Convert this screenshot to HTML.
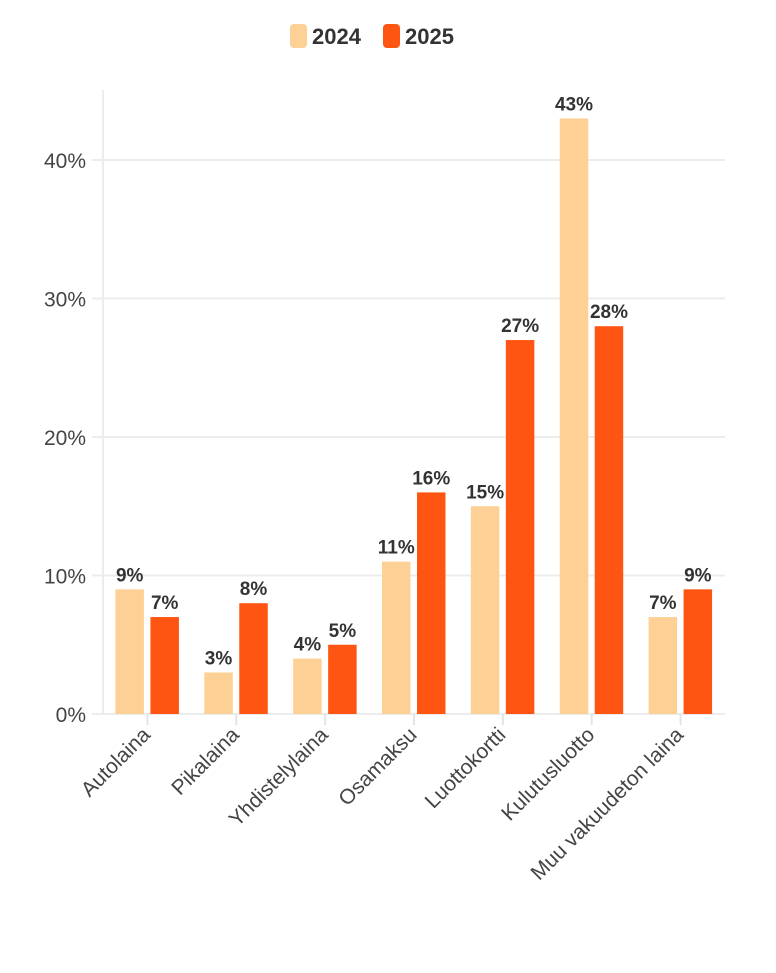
<!DOCTYPE html>
<html><head><meta charset="utf-8"><style>
body{margin:0;background:#fff;width:776px;height:968px;overflow:hidden;font-family:"Liberation Sans",sans-serif}
</style></head><body>
<svg id="c" width="776" height="968" xmlns="http://www.w3.org/2000/svg">
<g>
<rect x="290" y="24" width="17" height="24" rx="4" fill="#FDD195"/>
<text x="312" y="44" font-size="22" font-weight="bold" fill="#333">2024</text>
<rect x="383" y="24" width="17" height="24" rx="4" fill="#FF5512"/>
<text x="405" y="44" font-size="22" font-weight="bold" fill="#333">2025</text>
</g>
<g id="plot"></g>
</svg>
<script>
const categories=["Autolaina","Pikalaina","Yhdistelylaina","Osamaksu","Luottokortti","Kulutusluotto","Muu vakuudeton laina"];
const values2024=[9,3,4,11,15,43,7];
const values2025=[7,8,5,16,27,28,9];
const yTicks=[0,10,20,30,40];
const NS="http://www.w3.org/2000/svg";
const g=document.getElementById("plot");
const x0=103,x1=725,yBase=714,pxPer=13.85;
const band=(x1-x0)/categories.length;
const y=v=>yBase-v*pxPer;
const cx=i=>x0+band*(i+0.5);
function mk(t,a){const e=document.createElementNS(NS,t);for(const k in a)e.setAttribute(k,a[k]);g.appendChild(e);return e;}
yTicks.forEach(t=>{
 const l=mk("line",{x1:92,x2:x1,y1:y(t),y2:y(t),stroke:"#ececec","stroke-width":2});
 
 
 const tx=mk("text",{x:86,y:y(t)+8,"text-anchor":"end","font-size":21,fill:"#444"});
 tx.textContent=t+"%";
 
 
});
const ax=mk("line",{x1:x0,x2:x0,y1:90,y2:yBase,stroke:"#ececec","stroke-width":2});


const bw=28.5;
categories.forEach((c,i)=>{
 const m=cx(i);
 const tk=mk("line",{x1:m,x2:m,y1:yBase,y2:yBase+11,stroke:"#e4e4e4","stroke-width":2});
 
 
 [[values2024[i],m-32,"#FDD195","2024"],[values2025[i],m+3,"#FF5512","2025"]].forEach(([v,bx,col,yr])=>{
  const r=mk("rect",{x:bx,y:y(v),width:bw,height:yBase-y(v),fill:col});
  
  
  const lb=mk("text",{x:bx+bw/2,y:y(v)-8,"text-anchor":"middle","font-size":19,"font-weight":"bold",fill:"#333"});
  lb.textContent=v+"%";
  
  
 });
 const xl=mk("text",{x:m+4,y:yBase+22,"text-anchor":"end","font-size":21,fill:"#444",transform:`rotate(-45 ${m+4} ${yBase+22})`});
 xl.textContent=c;
 
 
});
</script>
</body></html>
